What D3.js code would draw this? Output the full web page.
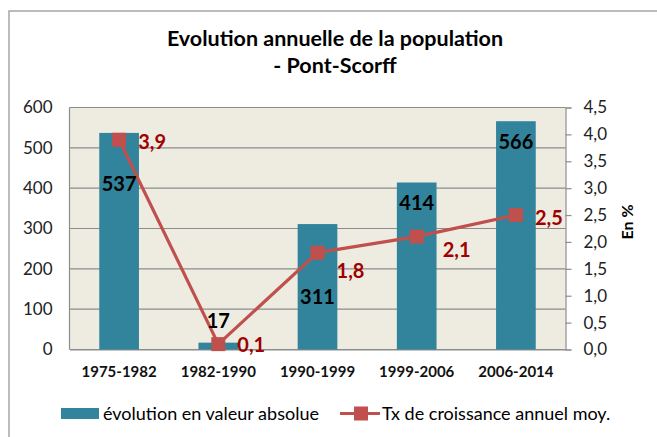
<!DOCTYPE html>
<html><head><meta charset="utf-8">
<script src="https://cdn.jsdelivr.net/npm/d3@7/dist/d3.min.js"></script>
<style>body{margin:0;background:#fff;font-family:Lato,"Open Sans",sans-serif}</style>
</head><body>
<script>
const categories = ["1975-1982","1982-1990","1990-1999","1999-2006","2006-2014"];
const barValues = [537, 17, 311, 414, 566];
const rateValues = [3.9, 0.1, 1.8, 2.1, 2.5];
const leftTicks = [0,100,200,300,400,500,600];
const rightTicks = [0,0.5,1,1.5,2,2.5,3,3.5,4,4.5];
const titleLines = ["Evolution annuelle de la population","- Pont-Scorff"];
const seriesNames = ["évolution en valeur absolue","Tx de croissance annuel moy."];

// label offsets (layout)
const barLabelDy = [51, -21.6, 73, 20.5, 21];
const rateLabelDx = [33, 33, 33, 40, 33];
const rateLabelDy = [2, 1, 18, 13, 3];

const W = 657, H = 437;
const plot = {l:69.5, r:565.5, t:107.5, b:349.5};
const fmt = d3.format(".1f");
const comma = v => fmt(v).replace(".", ",");

const svg = d3.select("body").append("svg").attr("width",W).attr("height",H);
svg.append("rect").attr("x",9).attr("y",11).attr("width",700).attr("height",500)
  .attr("fill","#fff").attr("stroke","#a6a6a6").attr("stroke-width",1.5);

const x = d3.scaleBand().domain(categories).range([plot.l, plot.r]).paddingInner(0.6).paddingOuter(0.3);
const y = d3.scaleLinear().domain([0,600]).range([plot.b, plot.t]);
const y2 = d3.scaleLinear().domain([0,4.5]).range([plot.b, plot.t]);

svg.append("rect").attr("x",plot.l).attr("y",plot.t).attr("width",plot.r-plot.l).attr("height",plot.b-plot.t)
  .attr("fill","#EEECE1");

// gridlines
svg.append("g").selectAll("line").data(leftTicks).join("line")
  .attr("x1",plot.l).attr("x2",plot.r).attr("y1",d=>y(d)).attr("y2",d=>y(d))
  .attr("stroke","#8c8c8c").attr("stroke-width",1.2);
svg.append("line").attr("x1",plot.l).attr("x2",plot.l).attr("y1",plot.t).attr("y2",plot.b).attr("stroke","#8c8c8c").attr("stroke-width",1.2);

// left axis
const gl = svg.append("g").attr("transform",`translate(${plot.l},0)`)
  .call(d3.axisLeft(y).tickValues(leftTicks).tickSize(0).tickPadding(17).tickFormat(d3.format("d")));
gl.select(".domain").remove();
gl.selectAll("text").attr("font-family","Lato").attr("font-size",17).attr("fill","#222");

// right axis
const gr = svg.append("g").attr("transform",`translate(${plot.r},0)`)
  .call(d3.axisRight(y2).tickValues(rightTicks).tickSize(6).tickPadding(12).tickFormat(comma));
gr.select(".domain").attr("stroke","#8c8c8c").attr("stroke-width",1.2);
gr.selectAll("line").attr("stroke","#8c8c8c").attr("stroke-width",1.2);
gr.selectAll("text").attr("font-family","Lato").attr("font-size",17).attr("fill","#222");

// x axis
const gx = svg.append("g").attr("transform",`translate(0,${plot.b})`)
  .call(d3.axisBottom(x).tickSize(0).tickPadding(17));
gx.select(".domain").attr("stroke","#8c8c8c").attr("stroke-width",1.2);
gx.selectAll("text").attr("font-family","Lato").attr("font-weight","bold").attr("font-size",15).attr("fill","#111");

// bars
svg.append("g").selectAll("rect").data(barValues).join("rect")
  .attr("x",(d,i)=>x(categories[i])).attr("width",x.bandwidth())
  .attr("y",d=>y(d)).attr("height",d=>y(0)-y(d)).attr("fill","#31849B");

// line
const cx = i => x(categories[i]) + x.bandwidth()/2;
const line = d3.line().x((d,i)=>cx(i)).y(d=>y2(d));
svg.append("path").datum(rateValues).attr("d",line).attr("fill","none")
  .attr("stroke","#C0504D").attr("stroke-width",3.2).attr("stroke-linejoin","round");
const ms = 14;
svg.append("g").selectAll("rect").data(rateValues).join("rect")
  .attr("x",(d,i)=>cx(i)-ms/2).attr("y",d=>y2(d)-ms/2).attr("width",ms).attr("height",ms)
  .attr("fill","#C0504D");

// bar labels
svg.append("g").selectAll("text").data(barValues).join("text")
  .attr("x",(d,i)=>cx(i)).attr("y",(d,i)=>y(d)+barLabelDy[i])
  .attr("dy","0.36em").attr("text-anchor","middle")
  .attr("font-family","Lato").attr("font-weight","bold").attr("font-size",20).attr("fill","#000")
  .text(d=>d);

// rate labels
svg.append("g").selectAll("text").data(rateValues).join("text")
  .attr("x",(d,i)=>cx(i)+rateLabelDx[i]).attr("y",(d,i)=>y2(d)+rateLabelDy[i])
  .attr("dy","0.36em").attr("text-anchor","middle")
  .attr("font-family","Lato").attr("font-weight","bold").attr("font-size",20).attr("fill","#A00000")
  .text(d=>comma(d));

// title
svg.append("g").selectAll("text").data(titleLines).join("text")
  .attr("x",335).attr("y",(d,i)=>46+i*27).attr("text-anchor","middle")
  .attr("font-family","Lato").attr("font-weight","bold").attr("font-size",21.5).attr("fill","#000")
  .text(d=>d);

// right axis title
svg.append("text").attr("transform","translate(627,222) rotate(-90)").attr("dy","0.36em")
  .attr("text-anchor","middle").attr("font-family","Lato").attr("font-weight","bold").attr("font-size",16)
  .attr("fill","#000").text("En %");

// legend
const lg = svg.append("g");
lg.append("rect").attr("x",61).attr("y",408).attr("width",38).attr("height",11).attr("fill","#31849B");
lg.append("text").attr("x",103).attr("y",419.5).attr("font-family","Lato").attr("font-size",18).attr("fill","#000").text(seriesNames[0]);
lg.append("line").attr("x1",340).attr("x2",380).attr("y1",413.5).attr("y2",413.5).attr("stroke","#C0504D").attr("stroke-width",3.2);
lg.append("rect").attr("x",361-ms/2).attr("y",413.5-ms/2).attr("width",ms).attr("height",ms).attr("fill","#C0504D");
lg.append("text").attr("x",382).attr("y",419.5).attr("font-family","Lato").attr("font-size",18).attr("fill","#000").text(seriesNames[1]);
</script>
</body></html>
